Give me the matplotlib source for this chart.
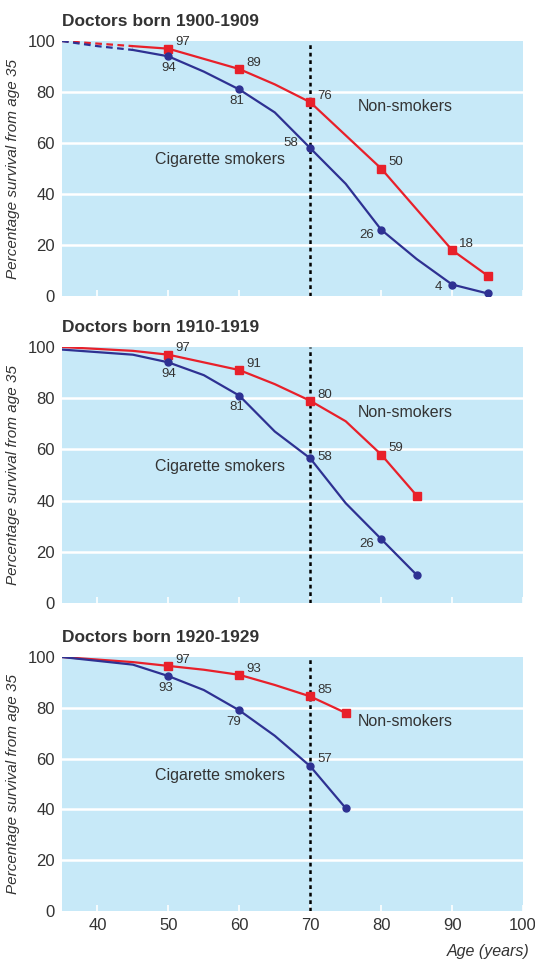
import matplotlib
matplotlib.use("Agg")
import matplotlib.pyplot as plt

# Data
titles = ["Doctors born 1900-1909", "Doctors born 1910-1919", "Doctors born 1920-1929"]

ages_1 = [35, 40, 45, 50, 55, 60, 65, 70, 75, 80, 85, 90, 95]
non_1 = [100, 99, 98, 97, 93, 89, 83, 76, 63, 50, 34, 18, 8]
smk_1 = [100, 98, 96.5, 94, 88, 81, 72, 58, 44, 26, 14.5, 4.5, 1]

ages_2 = [35, 45, 50, 55, 60, 65, 70, 75, 80, 85]
non_2 = [100, 98.5, 97, 94, 91, 85.5, 79, 71, 58, 42]
smk_2 = [99, 97, 94, 89, 81, 67, 56.5, 39, 25, 11]

ages_3 = [35, 45, 50, 55, 60, 65, 70, 75]
non_3 = [100, 98, 96.5, 95, 93, 89, 84.5, 78]
smk_3 = [100, 97, 92.5, 87, 79, 69, 57, 40.5]

# marked ages and printed labels
mark_non = [[50, 60, 70, 80, 90, 95], [50, 60, 70, 80, 85], [50, 60, 70, 75]]
lab_non = [["97", "89", "76", "50", "18", ""], ["97", "91", "80", "59", ""], ["97", "93", "85", ""]]
mark_smk = [[50, 60, 70, 80, 90, 95], [50, 60, 70, 80, 85], [50, 60, 70, 75]]
lab_smk = [["94", "81", "58", "26", "4", ""], ["94", "81", "58", "26", ""], ["93", "79", "57", ""]]

panels = [(ages_1, non_1, smk_1), (ages_2, non_2, smk_2), (ages_3, non_3, smk_3)]

RED = "#e8202a"
BLUE = "#2e3192"
BG = "#c7e9f8"
TXT = "#333333"
plt.rcParams['font.family'] = ['Liberation Sans', 'DejaVu Sans']

fig = plt.figure(figsize=(5.35, 9.61), dpi=100)
boxes = [(0.1159, 0.692, 0.8617, 0.2653),
         (0.1159, 0.3725, 0.8617, 0.2664),
         (0.1159, 0.052, 0.8617, 0.2643)]

# offsets (points) for blue labels per panel: (dx, dy, ha)
smk_off = [[(0, -8.5, "center"), (-2, -8, "center"), (-9, 4, "right"),
            (-5, -3.5, "right"), (-7, -2, "right")],
           [(0, -8.5, "center"), (-2, -8, "center"), (5, 1, "left"), (-5, -3.5, "right")],
           [(-2, -8.5, "center"), (-4, -8.5, "center"), (5, 5, "left")]]

for i, (ages, non, smk) in enumerate(panels):
    ax = fig.add_axes(boxes[i])
    ax.set_facecolor(BG)
    for s in ax.spines.values():
        s.set_visible(False)
    ax.set_xlim(35, 100)
    ax.set_ylim(0, 100)
    ax.set_yticks(range(0, 101, 20))
    ax.set_xticks(range(40, 101, 10))
    for y in range(20, 100, 20):
        ax.axhline(y, color="white", lw=1.8, zorder=1)
    ax.tick_params(axis="y", length=0, labelsize=12, labelcolor=TXT, pad=5)
    ax.tick_params(axis="x", direction="in", length=4, width=1.2, color="white",
                   labelsize=12, labelcolor=TXT, pad=5)
    if i < 2:
        ax.set_xticklabels([])
    ax.axvline(70, color="black", ls=(0, (1.5, 1.5)), lw=1.8, zorder=2)

    if i == 0:
        k = ages.index(45)
        ax.plot(ages[:k + 1], non[:k + 1], color=RED, lw=1.6, ls=(0, (3, 2)), zorder=3)
        ax.plot(ages[:k + 1], smk[:k + 1], color=BLUE, lw=1.6, ls=(0, (3, 2)), zorder=3)
        ax.plot(ages[k:], non[k:], color=RED, lw=1.6, zorder=3)
        ax.plot(ages[k:], smk[k:], color=BLUE, lw=1.6, zorder=3)
    else:
        ax.plot(ages, non, color=RED, lw=1.6, zorder=3)
        ax.plot(ages, smk, color=BLUE, lw=1.6, zorder=3)

    nm = [non[ages.index(a)] for a in mark_non[i]]
    sm = [smk[ages.index(a)] for a in mark_smk[i]]
    ax.plot(mark_non[i], nm, ls="none", marker="s", ms=6, color=RED, zorder=4)
    ax.plot(mark_smk[i], sm, ls="none", marker="o", ms=5, color=BLUE, zorder=4)

    for a, v, t in zip(mark_non[i], nm, lab_non[i]):
        if t:
            ax.annotate(t, (a, v), xytext=(5, 4.5), textcoords="offset points",
                        ha="left", va="center", fontsize=9.5, color=TXT)
    for (a, v, t), (dx, dy, ha) in zip(zip(mark_smk[i], sm, lab_smk[i]), smk_off[i]):
        if t:
            ax.annotate(t, (a, v), xytext=(dx, dy), textcoords="offset points",
                        ha=ha, va="center", fontsize=9.5, color=TXT)

    ax.text(76.7, 74.5, "Non-smokers", fontsize=11.5, color=TXT, ha="left", va="center")
    ax.text(57.3, 53.5, "Cigarette smokers", fontsize=11.5, color=TXT,
            ha="center", va="center")

    ax.annotate(titles[i], (0, 1), xycoords="axes fraction", xytext=(0, 14),
                textcoords="offset points", fontsize=12.5, fontweight="bold",
                color=TXT, ha="left", va="center")
    ax.set_ylabel("Percentage survival from age 35", fontstyle="italic",
                  fontsize=11, color=TXT, labelpad=5)
    if i == 2:
        ax.set_xlabel("Age (years)", fontstyle="italic", fontsize=11.5, color=TXT)
        ax.xaxis.set_label_coords(1.015, -0.13)
        ax.xaxis.label.set_ha("right")

fig.savefig("out.png", dpi=100)
